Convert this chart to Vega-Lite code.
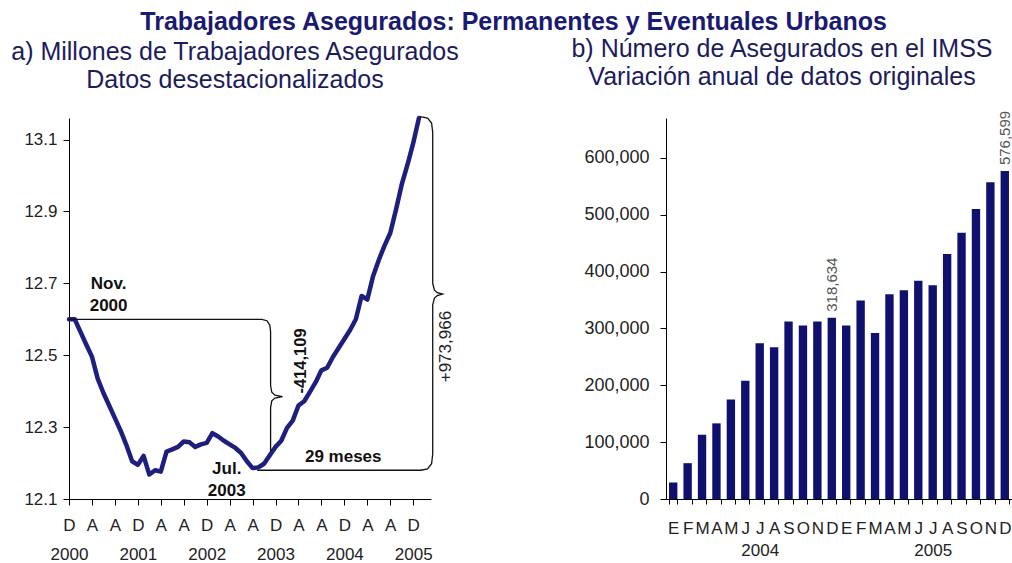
{
  "$schema": "https://vega.github.io/schema/vega-lite/v6.json",
  "background": "white",
  "padding": {"left": 10, "top": 9, "right": 0, "bottom": 0},
  "bounds": "flush",
  "spacing": 235,
  "config": {
    "font": "Liberation Sans",
    "view": {"stroke": null},
    "axis": {"domainColor": "#000", "tickColor": "#000", "labelColor": "#222", "labelFont": "Liberation Sans", "grid": false, "title": null, "domainWidth": 1, "tickWidth": 1}
  },
  "title": {"text": "Trabajadores Asegurados: Permanentes y Eventuales Urbanos", "fontSize": 25, "fontWeight": "bold", "color": "#1a1a70", "anchor": "middle", "dx": 2, "offset": 2, "font": "Liberation Sans"},
  "datasets": {
    "serie": [
      {"mes": "2000-11", "t": 0, "v": 12.600},
      {"mes": "2000-12", "t": 1, "v": 12.600},
      {"mes": "2001-01", "t": 2, "v": 12.565},
      {"mes": "2001-02", "t": 3, "v": 12.530},
      {"mes": "2001-03", "t": 4, "v": 12.496},
      {"mes": "2001-04", "t": 5, "v": 12.435},
      {"mes": "2001-05", "t": 6, "v": 12.395},
      {"mes": "2001-06", "t": 7, "v": 12.360},
      {"mes": "2001-07", "t": 8, "v": 12.325},
      {"mes": "2001-08", "t": 9, "v": 12.290},
      {"mes": "2001-09", "t": 10, "v": 12.250},
      {"mes": "2001-10", "t": 11, "v": 12.205},
      {"mes": "2001-11", "t": 12, "v": 12.195},
      {"mes": "2001-12", "t": 13, "v": 12.220},
      {"mes": "2002-01", "t": 14, "v": 12.168},
      {"mes": "2002-02", "t": 15, "v": 12.180},
      {"mes": "2002-03", "t": 16, "v": 12.176},
      {"mes": "2002-04", "t": 17, "v": 12.232},
      {"mes": "2002-05", "t": 18, "v": 12.238},
      {"mes": "2002-06", "t": 19, "v": 12.245},
      {"mes": "2002-07", "t": 20, "v": 12.260},
      {"mes": "2002-08", "t": 21, "v": 12.258},
      {"mes": "2002-09", "t": 22, "v": 12.245},
      {"mes": "2002-10", "t": 23, "v": 12.252},
      {"mes": "2002-11", "t": 24, "v": 12.256},
      {"mes": "2002-12", "t": 25, "v": 12.283},
      {"mes": "2003-01", "t": 26, "v": 12.274},
      {"mes": "2003-02", "t": 27, "v": 12.262},
      {"mes": "2003-03", "t": 28, "v": 12.252},
      {"mes": "2003-04", "t": 29, "v": 12.242},
      {"mes": "2003-05", "t": 30, "v": 12.228},
      {"mes": "2003-06", "t": 31, "v": 12.205},
      {"mes": "2003-07", "t": 32, "v": 12.186},
      {"mes": "2003-08", "t": 33, "v": 12.188},
      {"mes": "2003-09", "t": 34, "v": 12.198},
      {"mes": "2003-10", "t": 35, "v": 12.222},
      {"mes": "2003-11", "t": 36, "v": 12.245},
      {"mes": "2003-12", "t": 37, "v": 12.262},
      {"mes": "2004-01", "t": 38, "v": 12.298},
      {"mes": "2004-02", "t": 39, "v": 12.318},
      {"mes": "2004-03", "t": 40, "v": 12.360},
      {"mes": "2004-04", "t": 41, "v": 12.372},
      {"mes": "2004-05", "t": 42, "v": 12.398},
      {"mes": "2004-06", "t": 43, "v": 12.425},
      {"mes": "2004-07", "t": 44, "v": 12.458},
      {"mes": "2004-08", "t": 45, "v": 12.465},
      {"mes": "2004-09", "t": 46, "v": 12.495},
      {"mes": "2004-10", "t": 47, "v": 12.520},
      {"mes": "2004-11", "t": 48, "v": 12.545},
      {"mes": "2004-12", "t": 49, "v": 12.570},
      {"mes": "2005-01", "t": 50, "v": 12.600},
      {"mes": "2005-02", "t": 51, "v": 12.665},
      {"mes": "2005-03", "t": 52, "v": 12.655},
      {"mes": "2005-04", "t": 53, "v": 12.720},
      {"mes": "2005-05", "t": 54, "v": 12.765},
      {"mes": "2005-06", "t": 55, "v": 12.805},
      {"mes": "2005-07", "t": 56, "v": 12.840},
      {"mes": "2005-08", "t": 57, "v": 12.905},
      {"mes": "2005-09", "t": 58, "v": 12.975},
      {"mes": "2005-10", "t": 59, "v": 13.030},
      {"mes": "2005-11", "t": 60, "v": 13.090},
      {"mes": "2005-12", "t": 61, "v": 13.160}
    ],
    "llaves": [
      {"llave": "caida", "orden": 1, "t": 0, "v": 12.600},
      {"llave": "caida", "orden": 2, "t": 33.6, "v": 12.600},
      {"llave": "caida", "orden": 3, "t": 34.5, "v": 12.596},
      {"llave": "caida", "orden": 4, "t": 35.0, "v": 12.584},
      {"llave": "caida", "orden": 5, "t": 35.14, "v": 12.565},
      {"llave": "caida", "orden": 6, "t": 35.14, "v": 12.415},
      {"llave": "caida", "orden": 7, "t": 35.35, "v": 12.397},
      {"llave": "caida", "orden": 8, "t": 35.9, "v": 12.389},
      {"llave": "caida", "orden": 9, "t": 37.2, "v": 12.385},
      {"llave": "caida", "orden": 10, "t": 35.9, "v": 12.381},
      {"llave": "caida", "orden": 11, "t": 35.35, "v": 12.373},
      {"llave": "caida", "orden": 12, "t": 35.14, "v": 12.355},
      {"llave": "caida", "orden": 13, "t": 35.14, "v": 12.232},
      {"llave": "alza", "orden": 1, "t": 32.8, "v": 12.180},
      {"llave": "alza", "orden": 2, "t": 61.3, "v": 12.180},
      {"llave": "alza", "orden": 3, "t": 62.5, "v": 12.184},
      {"llave": "alza", "orden": 4, "t": 63.2, "v": 12.198},
      {"llave": "alza", "orden": 5, "t": 63.4, "v": 12.225},
      {"llave": "alza", "orden": 6, "t": 63.4, "v": 12.640},
      {"llave": "alza", "orden": 7, "t": 63.7, "v": 12.659},
      {"llave": "alza", "orden": 8, "t": 64.2, "v": 12.666},
      {"llave": "alza", "orden": 9, "t": 65.1, "v": 12.670},
      {"llave": "alza", "orden": 10, "t": 64.2, "v": 12.674},
      {"llave": "alza", "orden": 11, "t": 63.7, "v": 12.681},
      {"llave": "alza", "orden": 12, "t": 63.4, "v": 12.700},
      {"llave": "alza", "orden": 13, "t": 63.4, "v": 13.120},
      {"llave": "alza", "orden": 14, "t": 63.2, "v": 13.146},
      {"llave": "alza", "orden": 15, "t": 62.5, "v": 13.160},
      {"llave": "alza", "orden": 16, "t": 61.2, "v": 13.164}
    ],
    "notas": [
      {"t": 6.9, "v": 12.684, "texto": "Nov.\n2000"},
      {"t": 27.5, "v": 12.170, "texto": "Jul.\n2003"},
      {"t": 47.8, "v": 12.204, "texto": "29 meses"}
    ],
    "caida": [
      {"t": 40.4, "v": 12.484, "texto": "-414,109"}
    ],
    "alza": [
      {"t": 65.8, "v": 12.524, "texto": "+973,966"}
    ],
    "imss": [
      {"mes": "2004-01", "asegurados": 29000},
      {"mes": "2004-02", "asegurados": 63000},
      {"mes": "2004-03", "asegurados": 113000},
      {"mes": "2004-04", "asegurados": 133000},
      {"mes": "2004-05", "asegurados": 175000},
      {"mes": "2004-06", "asegurados": 208000},
      {"mes": "2004-07", "asegurados": 274000},
      {"mes": "2004-08", "asegurados": 267000},
      {"mes": "2004-09", "asegurados": 312000},
      {"mes": "2004-10", "asegurados": 305000},
      {"mes": "2004-11", "asegurados": 312000},
      {"mes": "2004-12", "asegurados": 318634},
      {"mes": "2005-01", "asegurados": 305000},
      {"mes": "2005-02", "asegurados": 349000},
      {"mes": "2005-03", "asegurados": 292000},
      {"mes": "2005-04", "asegurados": 360000},
      {"mes": "2005-05", "asegurados": 367000},
      {"mes": "2005-06", "asegurados": 384000},
      {"mes": "2005-07", "asegurados": 376000},
      {"mes": "2005-08", "asegurados": 431000},
      {"mes": "2005-09", "asegurados": 468000},
      {"mes": "2005-10", "asegurados": 510000},
      {"mes": "2005-11", "asegurados": 557000},
      {"mes": "2005-12", "asegurados": 576599}
    ]
  },
  "hconcat": [
    {
      "width": 362,
      "height": 381,
      "title": {"text": ["a) Millones de Trabajadores Asegurados", "Datos desestacionalizados"], "fontSize": 25, "fontWeight": "normal", "color": "#1c1c5c", "lineHeight": 28, "anchor": "middle", "dx": -15, "offset": 21, "font": "Liberation Sans"},
      "layer": [
        {
          "data": {"name": "serie"},
          "mark": {"type": "line", "color": "#1e1e7e", "strokeWidth": 4.5, "strokeJoin": "round", "strokeCap": "round"},
          "encoding": {
            "x": {"field": "t", "type": "quantitative",
              "scale": {"domain": [0, 63.1], "nice": false, "zero": false},
              "axis": {"values": [0, 4, 8, 12, 16, 20, 24, 28, 32, 36, 40, 44, 48, 52, 56, 60], "tickCount": 30,
                "labelExpr": "datum.value % 12 == 0 ? ['D', '' + (2000 + datum.value / 12)] : 'A'",
                "labelLineHeight": 29, "labelFontSize": 17, "tickSize": 6, "labelPadding": 12,
                "labelAngle": 0, "labelFlush": false, "labelOverlap": false}},
            "y": {"field": "v", "type": "quantitative",
              "scale": {"domain": [12.1, 13.16], "nice": false, "zero": false},
              "axis": {"values": [12.1, 12.3, 12.5, 12.7, 12.9, 13.1], "format": ".1f", "labelFontSize": 17, "tickSize": 6, "labelPadding": 6}}
          }
        },
        {
          "data": {"name": "llaves"},
          "mark": {"type": "line", "color": "#111", "strokeWidth": 1.3},
          "encoding": {
            "x": {"field": "t", "type": "quantitative"},
            "y": {"field": "v", "type": "quantitative"},
            "detail": {"field": "llave"},
            "order": {"field": "orden", "type": "quantitative"}
          }
        },
        {
          "data": {"name": "notas"},
          "mark": {"type": "text", "fontWeight": "bold", "fontSize": 17, "align": "center", "baseline": "alphabetic", "lineBreak": "\n", "lineHeight": 22, "color": "#111"},
          "encoding": {
            "x": {"field": "t", "type": "quantitative"},
            "y": {"field": "v", "type": "quantitative"},
            "text": {"field": "texto"}
          }
        },
        {
          "data": {"name": "caida"},
          "mark": {"type": "text", "fontWeight": "bold", "fontSize": 16.5, "angle": 270, "align": "center", "baseline": "middle", "color": "#111"},
          "encoding": {
            "x": {"field": "t", "type": "quantitative"},
            "y": {"field": "v", "type": "quantitative"},
            "text": {"field": "texto"}
          }
        },
        {
          "data": {"name": "alza"},
          "mark": {"type": "text", "fontSize": 17, "angle": 270, "align": "center", "baseline": "middle", "color": "#222"},
          "encoding": {
            "x": {"field": "t", "type": "quantitative"},
            "y": {"field": "v", "type": "quantitative"},
            "text": {"field": "texto"}
          }
        }
      ]
    },
    {
      "width": 346,
      "height": 381,
      "title": {"text": ["b) Número de Asegurados en el IMSS", "Variación anual de datos originales"], "fontSize": 25, "fontWeight": "normal", "color": "#1c1c5c", "lineHeight": 28, "anchor": "middle", "dx": -57, "offset": 21, "font": "Liberation Sans"},
      "data": {"name": "imss"},
      "layer": [
        {
          "mark": {"type": "bar", "color": "#10106e"},
          "encoding": {
            "x": {"field": "mes", "type": "ordinal",
              "scale": {"paddingInner": 0.42, "paddingOuter": 0.21},
              "axis": {"labelExpr": "substring(datum.value, 5, 7) == '07' ? ['J', substring(datum.value, 0, 4)] : substring('EFMAMJJASOND', toNumber(substring(datum.value, 5, 7)) - 1, toNumber(substring(datum.value, 5, 7)))",
                "tickBand": "extent", "labelAngle": 0, "labelFontSize": 17, "labelLineHeight": 22, "tickSize": 5, "labelPadding": 16, "labelOverlap": false}},
            "y": {"field": "asegurados", "type": "quantitative",
              "scale": {"domain": [0, 670000], "nice": false},
              "axis": {"values": [0, 100000, 200000, 300000, 400000, 500000, 600000], "format": ",d", "labelFontSize": 18, "tickSize": 6, "labelPadding": 11}}
          }
        },
        {
          "transform": [{"filter": "datum.mes == '2004-12' || datum.mes == '2005-12'"}],
          "mark": {"type": "text", "angle": 270, "align": "left", "baseline": "middle", "dx": 6, "fontSize": 15, "color": "#555"},
          "encoding": {
            "x": {"field": "mes", "type": "ordinal"},
            "y": {"field": "asegurados", "type": "quantitative"},
            "text": {"field": "asegurados", "type": "quantitative", "format": ","}
          }
        }
      ]
    }
  ]
}
